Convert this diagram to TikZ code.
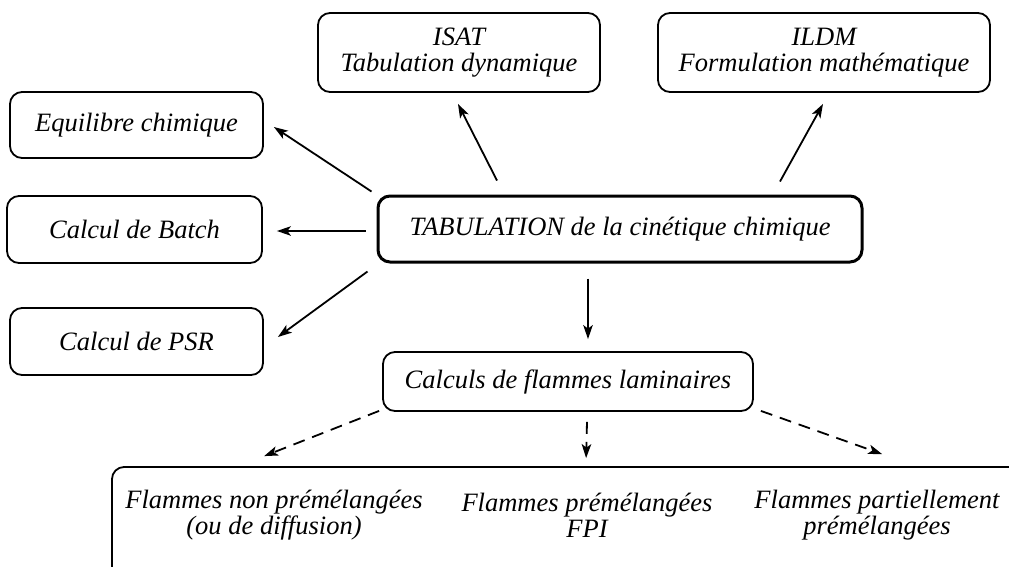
\documentclass[tikz,border=0pt]{standalone}
\usepackage{fontspec}
\setmainfont{Liberation Serif}[ItalicFont={Liberation Serif Italic}]
\newfontfamily\tnr{Liberation Serif Italic}
\usetikzlibrary{arrows.meta}
\tikzset{
  box/.style={draw, line width=1.8pt, rounded corners=12pt, inner sep=0pt, align=center,
    font=\tnr\fontsize{26.5}{26}\selectfont},
  mainbox/.style={box, line width=3pt},
  txt/.style={inner sep=0pt, align=center, font=\tnr\fontsize{26.5}{26}\selectfont},
  arr/.style={line width=1.8pt, -{Stealth[length=14pt,width=9.5pt,inset=3.5pt]}},
  darr/.style={arr, dash pattern=on 12pt off 8pt}
}
\begin{document}
\begin{tikzpicture}[x=1pt,y=-1pt]
\useasboundingbox (0,0) rectangle (1009,566);
% boxes
\node[box, minimum width=253pt, minimum height=66pt] (eq) at (136.5,125) {Equilibre chimique};
\node[box, minimum width=255pt, minimum height=67pt] (batch) at (134.5,229.5) {Calcul de Batch};
\node[box, minimum width=253pt, minimum height=67pt] (psr) at (136.5,341.5) {Calcul de PSR};
\node[box, minimum width=282pt, minimum height=79pt] (isat) at (459,52.5) {ISAT\\Tabulation dynamique};
\node[box, minimum width=332pt, minimum height=79pt] (ildm) at (824,52.5) {ILDM\\Formulation mathématique};
\node[mainbox, minimum width=484pt, minimum height=66pt] (tab) at (620,229) {TABULATION de la cinétique chimique};
\node[box, minimum width=370pt, minimum height=59pt] (calc) at (568,381.5) {Calculs de flammes laminaires};
\node[box, minimum width=928pt, minimum height=133pt] (flbox) at (576,533.5) {};
\node[txt] (fnp) at (274,515) {Flammes non prémélangées\\(ou de diffusion)};
\node[txt] (fp) at (587,515) {Flammes prémélangées\\FPI};
\node[txt] (fpp) at (877,515) {Flammes partiellement\\prémélangées};
% arrows
\draw[arr] ([shift={(-5,-3)}]tab.north west) -- ([shift={(10,2)}]eq.east);
\draw[arr] ([shift={(-11,2)}]tab.west) -- ([shift={(14,1.5)}]batch.east);
\draw[arr] ([shift={(-9,8)}]tab.south west) -- ([shift={(14,-4.5)}]psr.east);
\draw[arr] ([shift={(-123,-14)}]tab.north) -- ([shift={(-1,11)}]isat.south);
\draw[arr] ([shift={(160,-13)}]tab.north) -- ([shift={(-1,11)}]ildm.south);
\draw[arr] ([shift={(-32,15)}]tab.south) -- ([shift={(20,-12)}]calc.north);
% dashed arrows
\draw[darr] ([shift={(-3,-1)}]calc.south west) -- ([shift={(153,-10)}]flbox.north west);
\draw[darr] ([shift={(19,10)}]calc.south) -- ([shift={(475,-8)}]flbox.north west);
\draw[darr] ([shift={(7,-1)}]calc.south east) -- ([shift={(771,-12)}]flbox.north west);
\end{tikzpicture}
\end{document}
